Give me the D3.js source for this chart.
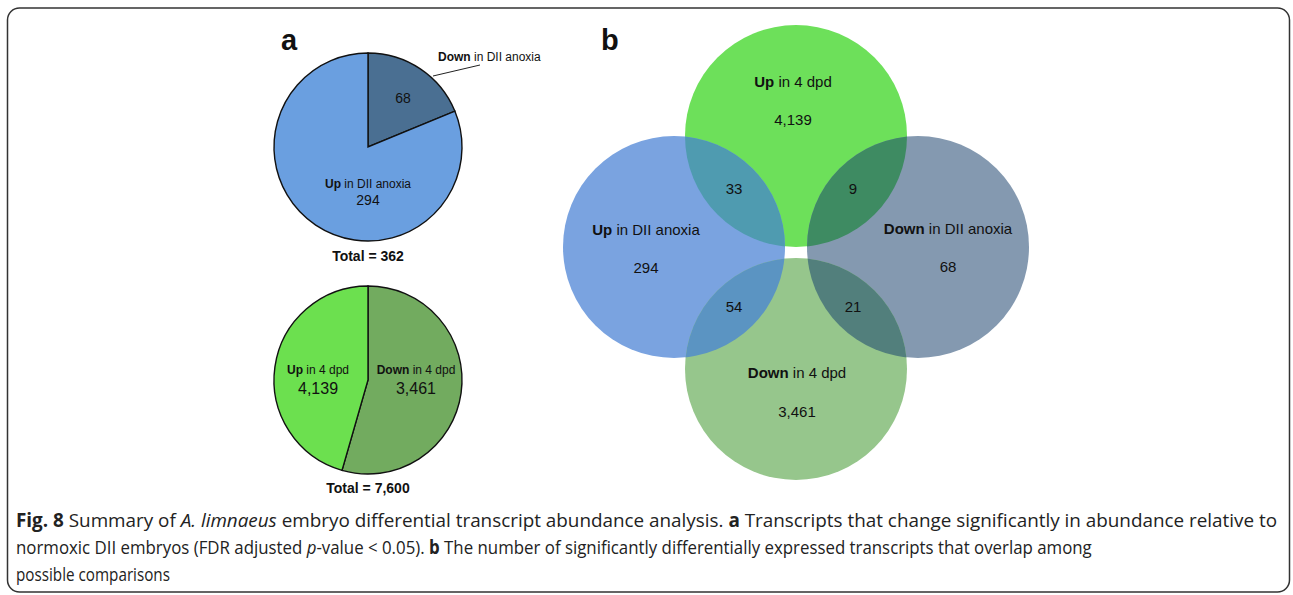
<!DOCTYPE html>
<html>
<head>
<meta charset="utf-8">
<script src="https://cdn.jsdelivr.net/npm/d3@7"></script>
<style>
  body { margin: 0; background: #fff; }
  svg text { font-family: "Liberation Sans", Arial, sans-serif; fill: #111; }
  svg text.cap { font-family: "Open Sans", sans-serif; fill: #222; }
</style>
</head>
<body>
<svg id="fig" width="1293" height="595"></svg>
<script>
// panel a, top pie (clockwise from 12 o'clock)
const pie1Names = ["Down", "Up"];
const pie1Values = [68, 294];
const pie1Colors = ["#4a6f92", "#6a9fe0"];

// panel a, bottom pie. Labels carry the counts, slice sizes follow the drawn figure
const pie2Names = ["Down", "Up"];
const pie2Counts = ["3,461", "4,139"];
const pie2Arcs = [4139, 3461];
const pie2Colors = ["#72ab5f", "#6ce04f"];

// panel b, venn sets: top, left, right, bottom
const vennNames = ["Up", "Up", "Down", "Down"];
const vennSuffix = ["in 4 dpd", "in DII anoxia", "in DII anoxia", "in 4 dpd"];
const vennCounts = ["4,139", "294", "68", "3,461"];
const vennColors = ["#6de05a", "#7aa3e0", "#8499b0", "#96c68c"];
// overlaps: [set i, set j, count]
const vennPairs = [[0, 1, 33], [0, 2, 9], [1, 3, 54], [2, 3, 21]];
const vennPairColors = ["#4f9bb0", "#3e8b62", "#5b94c2", "#527f7c"];

const svg = d3.select("#fig");

// frame
svg.append("rect").attr("x", 7.5).attr("y", 8).attr("width", 1282).attr("height", 584)
  .attr("rx", 12).attr("fill", "none").attr("stroke", "#333").attr("stroke-width", 1.5);

// ---- panel a ----
svg.append("text").attr("x", 281).attr("y", 50).attr("font-size", 29).attr("font-weight", "bold").text("a");

const r = 94;
const arc = d3.arc().innerRadius(0).outerRadius(r);

function drawPie(cx, cy, values, colors) {
  const g = svg.append("g").attr("transform", `translate(${cx},${cy})`);
  const arcs = d3.pie().sort(null).value(d => d)(values);
  g.selectAll("path").data(arcs).join("path")
    .attr("d", arc).attr("fill", (d, i) => colors[i])
    .attr("stroke", "#111").attr("stroke-width", 1.4);
  return g;
}

function label(g, x, y, bold, rest, size) {
  const t = g.append("text").attr("x", x).attr("y", y).attr("text-anchor", "middle").attr("font-size", size);
  t.append("tspan").attr("font-weight", "bold").text(bold);
  t.append("tspan").text(" " + rest);
  return t;
}

const p1 = drawPie(368, 147, pie1Values, pie1Colors);
p1.append("text").attr("x", 35).attr("y", -44).attr("text-anchor", "middle").attr("font-size", 14).text(pie1Values[0]);
label(p1, 0, 41, pie1Names[1], "in DII anoxia", 12);
p1.append("text").attr("x", 0).attr("y", 58).attr("text-anchor", "middle").attr("font-size", 14).text(pie1Values[1]);
p1.append("line").attr("x1", 65).attr("y1", -71).attr("x2", 112).attr("y2", -82).attr("stroke", "#222").attr("stroke-width", 1);
p1.append("text").attr("x", 70).attr("y", -86).attr("font-size", 12)
  .call(t => { t.append("tspan").attr("font-weight", "bold").text(pie1Names[0]); t.append("tspan").text(" in DII anoxia"); });
svg.append("text").attr("x", 368).attr("y", 261).attr("text-anchor", "middle").attr("font-size", 14).attr("font-weight", "bold")
  .text("Total = " + d3.sum(pie1Values));

const p2 = drawPie(368, 380, pie2Arcs, pie2Colors);
label(p2, 48, -6, pie2Names[0], "in 4 dpd", 12);
p2.append("text").attr("x", 48).attr("y", 14).attr("text-anchor", "middle").attr("font-size", 16).text(pie2Counts[0]);
label(p2, -50, -6, pie2Names[1], "in 4 dpd", 12);
p2.append("text").attr("x", -50).attr("y", 14).attr("text-anchor", "middle").attr("font-size", 16).text(pie2Counts[1]);
svg.append("text").attr("x", 368).attr("y", 493).attr("text-anchor", "middle").attr("font-size", 14).attr("font-weight", "bold")
  .text("Total = " + d3.format(",")(d3.sum(pie2Arcs)));

// ---- panel b ----
svg.append("text").attr("x", 601).attr("y", 50).attr("font-size", 29).attr("font-weight", "bold").text("b");

// layout of the four circles (top, left, right, bottom)
const vr = 111;
const vx = d3.scalePoint().domain(["left", "mid", "right"]).range([674, 918]);
const vy = d3.scalePoint().domain(["top", "mid", "bottom"]).range([136, 369]);
const vPos = [["mid", "top"], ["left", "mid"], ["right", "mid"], ["mid", "bottom"]]
  .map(([a, b]) => ({ x: vx(a), y: vy(b) }));
vPos[2].y = 247; vPos[1].y = 247;

const defs = svg.append("defs");
vPos.forEach((p, i) => {
  defs.append("clipPath").attr("id", "vc" + i)
    .append("circle").attr("cx", p.x).attr("cy", p.y).attr("r", vr);
});

svg.selectAll("circle.set").data(vPos).join("circle").attr("class", "set")
  .attr("cx", d => d.x).attr("cy", d => d.y).attr("r", vr)
  .attr("fill", (d, i) => vennColors[i]);

svg.selectAll("circle.pair").data(vennPairs).join("circle").attr("class", "pair")
  .attr("cx", d => vPos[d[0]].x).attr("cy", d => vPos[d[0]].y).attr("r", vr)
  .attr("clip-path", d => `url(#vc${d[1]})`)
  .attr("fill", (d, i) => vennPairColors[i]);

// set labels
const setLab = [[793, 87, 125], [646, 235, 273], [948, 234, 272], [797, 378, 417]];
vPos.forEach((p, i) => {
  const [lx, ly, ny] = setLab[i];
  label(svg, lx, ly, vennNames[i], vennSuffix[i], 15);
  svg.append("text").attr("x", lx).attr("y", ny).attr("text-anchor", "middle").attr("font-size", 15).text(vennCounts[i]);
});

// pair labels at lens centres
svg.selectAll("text.pair").data(vennPairs).join("text").attr("class", "pair")
  .attr("x", d => (vPos[d[0]].x + vPos[d[1]].x) / 2 + ((vPos[d[0]].x + vPos[d[1]].x) / 2 < 796 ? -1 : -4))
  .attr("y", d => (vPos[d[0]].y + vPos[d[1]].y) / 2 - ((vPos[d[0]].y + vPos[d[1]].y) / 2 < 250 ? 3 : 1) + 5)
  .attr("text-anchor", "middle").attr("font-size", 15).text(d => d[2]);

// ---- caption (each line squeezed to its width in the figure) ----
const capLines = [
  [["Fig. 8", "b"], [" Summary of ", ""], ["A. limnaeus", "i"], [" embryo differential transcript abundance analysis. ", ""], ["a", "b"], [" Transcripts that change significantly in abundance relative to", ""]],
  [["normoxic DII embryos (FDR adjusted ", ""], ["p", "i"], ["-value < 0.05). ", ""], ["b", "b"], [" The number of significantly differentially expressed transcripts that overlap among", ""]],
  [["possible comparisons", ""]]
];
const capWidths = [1262, 1077, 154];
capLines.forEach((ln, i) => {
  const g = svg.append("g");
  const t = g.append("text").attr("class", "cap").attr("x", 0).attr("y", 0).attr("font-size", 19);
  ln.forEach(([s, st]) => {
    const ts = t.append("tspan").text(s);
    if (st === "b") ts.attr("font-weight", "bold");
    if (st === "i") ts.attr("font-style", "italic");
  });
  const w = t.node().getComputedTextLength();
  g.attr("transform", `translate(16,${527 + i * 27}) scale(${capWidths[i] / w},1)`);
});
</script>
</body>
</html>
